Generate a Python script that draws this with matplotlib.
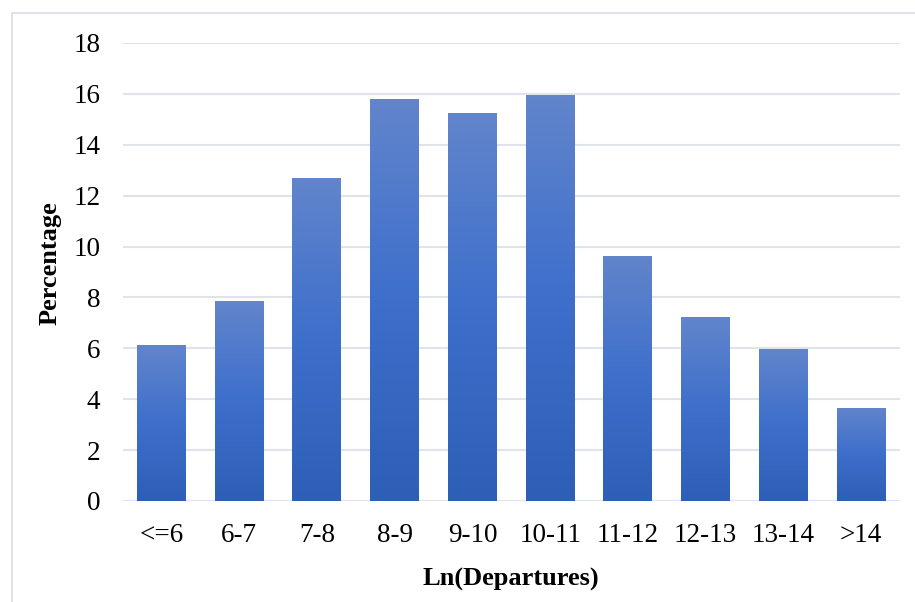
import numpy as np
import matplotlib.pyplot as plt
from matplotlib.colors import LinearSegmentedColormap
from matplotlib.patches import Rectangle

categories = ['<=6', '6-7', '7-8', '8-9', '9-10', '10-11', '11-12', '12-13', '13-14', '>14']
percentages = [6.13, 7.86, 12.70, 15.80, 15.25, 15.96, 9.63, 7.23, 5.97, 3.66]

plt.rcParams['font.family'] = ['Liberation Serif', 'DejaVu Serif']

fig = plt.figure(figsize=(9.15, 6.02), dpi=100)
ax = fig.add_axes([122.5 / 915, (602 - 501) / 602, (900 - 122.5) / 915, (501 - 43) / 602])

# thin frame around the chart area
fig.patches.append(Rectangle((12 / 915, -0.1), 1.0, (602 - 12.5) / 602 + 0.1,
                             transform=fig.transFigure, fill=False,
                             edgecolor='#d9dde4', linewidth=1.2))

x = np.arange(len(categories))
bars = ax.bar(x, percentages, width=0.63, color='none', zorder=3)

# vertical gradient inside each bar, lighter at the top
grad = LinearSegmentedColormap.from_list('bar_grad', ['#2e5fb7', '#3d6fcb', '#6285cc'])
ramp = np.linspace(0, 1, 256).reshape(-1, 1)
for b in bars:
    x0, y0 = b.get_x(), b.get_y()
    w, h = b.get_width(), b.get_height()
    im = ax.imshow(ramp, cmap=grad, origin='lower', aspect='auto',
                   extent=(x0, x0 + w, y0, y0 + h), zorder=3)
    im.set_clip_path(b)

ax.set_xlim(-0.5, len(categories) - 0.5)
ax.set_ylim(0, 18)
ax.set_yticks(range(0, 19, 2))
ax.set_xticks(x)
ax.set_xticklabels(categories)
ax.grid(axis='y', color='#dfe3ea', linewidth=1.5, zorder=0)
ax.tick_params(length=0, labelsize=19.5, colors='black')
ax.tick_params(axis='y', pad=16)
ax.tick_params(axis='x', pad=16)
for s in ax.spines.values():
    s.set_visible(False)

ax.set_ylabel('Percentage', fontsize=19, fontweight='bold')
ax.yaxis.set_label_coords(-0.079, 0.52)
ax.set_xlabel('Ln(Departures)', fontsize=19, fontweight='bold', labelpad=14)

fig.savefig('out.png', dpi=100)
